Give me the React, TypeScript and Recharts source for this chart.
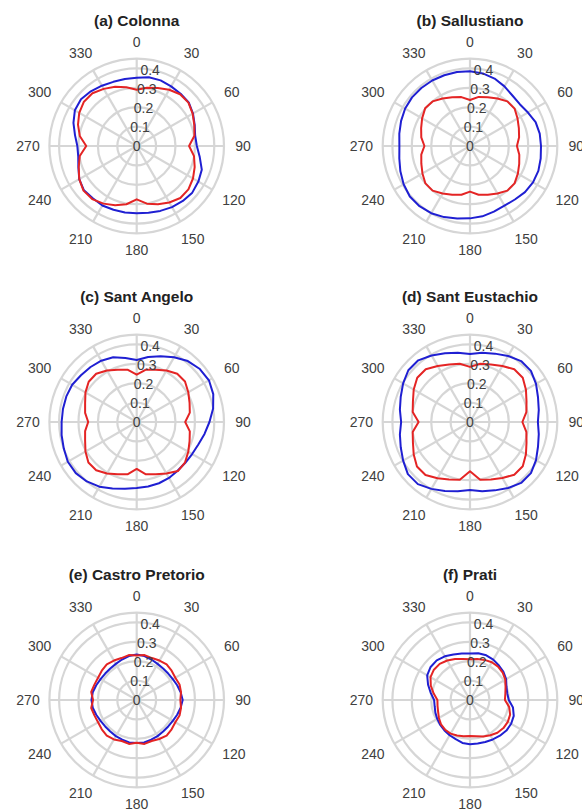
import {
  RadarChart,
  PolarGrid,
  PolarAngleAxis,
  PolarRadiusAxis,
  Radar,
} from "recharts";

// angle in degrees, clockwise from north
const angles = [
  0, 10, 20, 30, 40, 50, 60, 70, 80, 90, 100, 110, 120, 130, 140, 150, 160,
  170, 180, 190, 200, 210, 220, 230, 240, 250, 260, 270, 280, 290, 300, 310,
  320, 330, 340, 350,
];
const radiusTicks = [0, 0.1, 0.2, 0.3, 0.4];
const gridRings = [0.1, 0.2, 0.3, 0.4, 0.45];
const spokeAngles = [0, 30, 60, 90, 120, 150, 180, 210, 240, 270, 300, 330];
const rMax = 0.45;

const colonnaBlue = [
  0.352, 0.36, 0.36, 0.355, 0.352, 0.35, 0.335, 0.318, 0.306, 0.31, 0.33,
  0.357, 0.367, 0.374, 0.37, 0.364, 0.356, 0.349, 0.347, 0.348, 0.35, 0.354,
  0.352, 0.355, 0.342, 0.32, 0.306, 0.306, 0.323, 0.347, 0.368, 0.375, 0.368,
  0.359, 0.352, 0.351,
];
const colonnaRed = [
  0.29, 0.305, 0.318, 0.335, 0.348, 0.348, 0.333, 0.316, 0.302, 0.27, 0.3,
  0.318, 0.335, 0.348, 0.35, 0.336, 0.32, 0.302, 0.275, 0.305, 0.325, 0.343,
  0.357, 0.358, 0.342, 0.318, 0.298, 0.26, 0.298, 0.322, 0.342, 0.355, 0.355,
  0.34, 0.325, 0.308,
];

const sallustianoBlue = [
  0.385, 0.38, 0.37, 0.355, 0.34, 0.335, 0.345, 0.36, 0.365, 0.366, 0.37,
  0.375, 0.375, 0.37, 0.36, 0.355, 0.36, 0.368, 0.373, 0.38, 0.39, 0.4, 0.405,
  0.405, 0.395, 0.382, 0.37, 0.364, 0.37, 0.378, 0.386, 0.39, 0.39, 0.39, 0.388,
  0.387,
];
const sallustianoRed = [
  0.237, 0.257, 0.268, 0.283, 0.3, 0.3, 0.283, 0.268, 0.257, 0.242, 0.258,
  0.27, 0.285, 0.3, 0.3, 0.283, 0.268, 0.255, 0.235, 0.255, 0.268, 0.283,
  0.3, 0.3, 0.283, 0.267, 0.255, 0.235, 0.255, 0.268, 0.285, 0.302, 0.3,
  0.283, 0.268, 0.256,
];

const santAngeloBlue = [
  0.32, 0.34, 0.36, 0.385, 0.41, 0.425, 0.43, 0.42, 0.4, 0.375, 0.355, 0.338,
  0.33, 0.327, 0.328, 0.333, 0.336, 0.338, 0.34, 0.35, 0.365, 0.385, 0.4, 0.41,
  0.41, 0.4, 0.393, 0.387, 0.386, 0.386, 0.384, 0.375, 0.37, 0.365, 0.355,
  0.335,
];
const santAngeloRed = [
  0.244, 0.274, 0.287, 0.307, 0.325, 0.325, 0.307, 0.29, 0.278, 0.25, 0.278,
  0.29, 0.307, 0.325, 0.33, 0.307, 0.287, 0.274, 0.242, 0.274, 0.287, 0.307,
  0.325, 0.325, 0.305, 0.283, 0.27, 0.25, 0.27, 0.283, 0.305, 0.323, 0.325,
  0.307, 0.287, 0.274,
];

const santEustachioBlue = [
  0.35, 0.362, 0.375, 0.393, 0.41, 0.41, 0.393, 0.373, 0.36, 0.35, 0.36,
  0.373, 0.393, 0.41, 0.41, 0.393, 0.375, 0.362, 0.35, 0.362, 0.378, 0.398,
  0.418, 0.418, 0.398, 0.38, 0.367, 0.355, 0.367, 0.38, 0.398, 0.415, 0.415,
  0.396, 0.377, 0.363,
];
const santEustachioRed = [
  0.284, 0.305, 0.315, 0.333, 0.355, 0.355, 0.333, 0.31, 0.295, 0.27, 0.295,
  0.31, 0.333, 0.355, 0.355, 0.333, 0.315, 0.302, 0.254, 0.302, 0.315, 0.335,
  0.357, 0.357, 0.335, 0.313, 0.3, 0.265, 0.3, 0.313, 0.335, 0.355, 0.355,
  0.333, 0.315, 0.305,
];

const castroBlue = [
  0.235, 0.23, 0.222, 0.215, 0.212, 0.212, 0.215, 0.222, 0.23, 0.237, 0.23,
  0.222, 0.215, 0.212, 0.212, 0.215, 0.218, 0.222, 0.222, 0.222, 0.218, 0.215,
  0.212, 0.212, 0.215, 0.222, 0.23, 0.233, 0.23, 0.222, 0.215, 0.212, 0.212,
  0.215, 0.222, 0.23,
];
const castroRed = [
  0.23, 0.235, 0.23, 0.235, 0.24, 0.235, 0.23, 0.235, 0.232, 0.225, 0.232,
  0.235, 0.23, 0.235, 0.24, 0.232, 0.225, 0.23, 0.22, 0.23, 0.225, 0.235,
  0.24, 0.235, 0.23, 0.232, 0.238, 0.225, 0.238, 0.232, 0.23, 0.235, 0.24,
  0.235, 0.23, 0.235,
];

const pratiBlue = [
  0.24, 0.245, 0.245, 0.24, 0.232, 0.225, 0.215, 0.2, 0.195, 0.2, 0.225, 0.24,
  0.245, 0.245, 0.24, 0.235, 0.23, 0.228, 0.228, 0.225, 0.215, 0.21, 0.205,
  0.2, 0.195, 0.19, 0.185, 0.185, 0.205, 0.23, 0.255, 0.265, 0.267, 0.26,
  0.25, 0.243,
];
const pratiRed = [
  0.21, 0.215, 0.22, 0.225, 0.225, 0.22, 0.21, 0.195, 0.185, 0.18, 0.205,
  0.22, 0.225, 0.225, 0.22, 0.21, 0.2, 0.19, 0.186, 0.19, 0.195, 0.2, 0.2,
  0.195, 0.185, 0.175, 0.17, 0.168, 0.19, 0.215, 0.235, 0.243, 0.243, 0.235,
  0.225, 0.215,
];

const R = 87.3;
const CY = 146;
const textColor = "#404040";
const gridColor = "#d6d6d6";

type PanelProps = {
  title: string;
  blue: number[];
  red: number[];
  left: number;
  top: number;
  cx: number;
  height: number;
};

function Panel({ title, blue, red, left, top, cx, height }: PanelProps) {
  const data = angles.map((a, i) => ({ angle: a, blue: blue[i], red: red[i] }));

  const angleTick = (props: any) => {
    const v = Number(props.payload.value);
    if (v % 30 !== 0) return <g />;
    const t = (v * Math.PI) / 180;
    const s = Math.sin(t);
    const c = Math.cos(t);
    const w = String(v).length * 7.8;
    const r = 104 + 4 * Math.abs(Math.sin(2 * t));
    const x = cx + s * r + Math.sign(s) * ((w - 7.8) / 2) * Math.abs(s) * 0.6;
    const y = CY - c * r;
    return (
      <text
        x={x}
        y={y}
        textAnchor="middle"
        dominantBaseline="central"
        fontSize={14}
        fill={textColor}
      >
        {v}
      </text>
    );
  };

  const radiusTick = (props: any) => {
    const v = Number(props.payload.value);
    if (!radiusTicks.some((t) => Math.abs(t - v) < 1e-6)) return <g />;
    return (
      <text
        x={props.x}
        y={props.y}
        textAnchor="middle"
        dominantBaseline="central"
        fontSize={14}
        fill={textColor}
      >
        {v === 0 ? "0" : v.toFixed(1)}
      </text>
    );
  };

  return (
    <div style={{ position: "absolute", left, top, width: 291, height }}>
      <div
        style={{
          position: "absolute",
          left: cx - 145.5,
          top: CY - 125 - 9,
          width: 291,
          textAlign: "center",
          fontWeight: "bold",
          fontSize: 15.5,
          lineHeight: "18px",
          color: "#222",
        }}
      >
        {title}
      </div>
      <RadarChart
        width={291}
        height={height}
        data={data}
        cx={cx}
        cy={CY}
        outerRadius={R}
        margin={{ top: 0, right: 0, bottom: 0, left: 0 }}
      >
        <PolarGrid
          gridType="circle"
          polarAngles={spokeAngles}
          polarRadius={gridRings.map((v) => (v / rMax) * R)}
          stroke={gridColor}
          strokeWidth={2.2}
        />
        <PolarAngleAxis
          dataKey="angle"
          tick={angleTick}
          tickLine={false}
          axisLine={false}
        />
        <Radar
          dataKey="blue"
          stroke="#1f1fd2"
          strokeWidth={2}
          strokeLinejoin="round"
          fill="none"
          fillOpacity={0}
          dot={false}
          isAnimationActive={false}
        />
        <Radar
          dataKey="red"
          stroke="#e42424"
          strokeWidth={2}
          strokeLinejoin="round"
          fill="none"
          fillOpacity={0}
          dot={false}
          isAnimationActive={false}
        />
        <PolarRadiusAxis
          type="number"
          angle={80}
          domain={[0, rMax]}
          ticks={radiusTicks}
          tickCount={10}
          allowDataOverflow
          tick={radiusTick}
          axisLine={false}
          tickLine={false}
        />
      </RadarChart>
    </div>
  );
}

export default function App() {
  return (
    <div
      style={{
        position: "absolute",
        left: 0,
        top: 0,
        width: 582,
        height: 811,
        background: "#fff",
        fontFamily: "'Liberation Sans', Arial, sans-serif",
      }}
    >
      <Panel title="(a) Colonna" blue={colonnaBlue} red={colonnaRed} left={0} top={0} cx={136.7} height={276} />
      <Panel title="(b) Sallustiano" blue={sallustianoBlue} red={sallustianoRed} left={291} top={0} cx={179} height={276} />
      <Panel title="(c) Sant Angelo" blue={santAngeloBlue} red={santAngeloRed} left={0} top={276} cx={136.7} height={278} />
      <Panel title="(d) Sant Eustachio" blue={santEustachioBlue} red={santEustachioRed} left={291} top={276} cx={179} height={278} />
      <Panel title="(e) Castro Pretorio" blue={castroBlue} red={castroRed} left={0} top={554} cx={136.7} height={257} />
      <Panel title="(f) Prati" blue={pratiBlue} red={pratiRed} left={291} top={554} cx={179} height={257} />
    </div>
  );
}
